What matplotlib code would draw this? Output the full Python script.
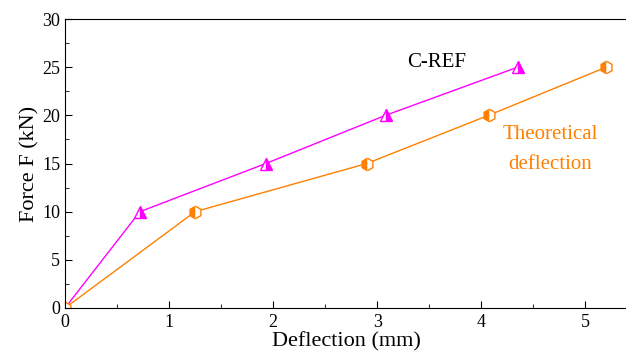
import matplotlib
matplotlib.use("Agg")
import matplotlib.pyplot as plt
from matplotlib.ticker import MultipleLocator

plt.rcParams['font.family'] = ['Liberation Serif', 'DejaVu Serif']

cref_x = [0, 0.72, 1.93, 3.08, 4.35]
cref_y = [0, 10, 15, 20, 25]
theo_x = [0, 1.25, 2.9, 4.07, 5.2]
theo_y = [0, 10, 15, 20, 25]

magenta = '#ff00ff'
orange = '#ff8000'

fig = plt.figure(figsize=(6.26, 3.54), dpi=100)
ax = fig.add_axes([65/626, 1 - 308/354, 562/626, 289/354])

ax.plot(cref_x, cref_y, color=magenta, lw=1, marker='^', ms=8,
        fillstyle='right', markerfacecoloralt='white', mec=magenta, mfc=magenta)
ax.plot(theo_x, theo_y, color=orange, lw=1, marker='h', ms=9,
        fillstyle='left', markerfacecoloralt='white', mec=orange, mfc=orange)

ax.text(3.57, 25.5, 'C-REF', fontsize=15, ha='center', va='center', color='black')
ax.text(4.66, 18.0, 'Theoretical', fontsize=15, ha='center', va='center', color=orange)
ax.text(4.66, 14.85, 'deflection', fontsize=15, ha='center', va='center', color=orange)

ax.set_xlim(0, 5.4)
ax.set_ylim(0, 30)
ax.xaxis.set_major_locator(MultipleLocator(1))
ax.xaxis.set_minor_locator(MultipleLocator(0.5))
ax.yaxis.set_major_locator(MultipleLocator(5))
ax.yaxis.set_minor_locator(MultipleLocator(2.5))
ax.tick_params(which='both', direction='in', labelsize=13)
ax.tick_params(which='major', length=5)
ax.tick_params(which='minor', length=3)
ax.tick_params(axis='x', pad=4)
ax.spines['right'].set_visible(False)
ax.set_xlabel('Deflection (mm)', fontsize=16, labelpad=1)
ax.set_ylabel('Force F (kN)', fontsize=16, labelpad=2)

fig.savefig('out.png', dpi=100)
